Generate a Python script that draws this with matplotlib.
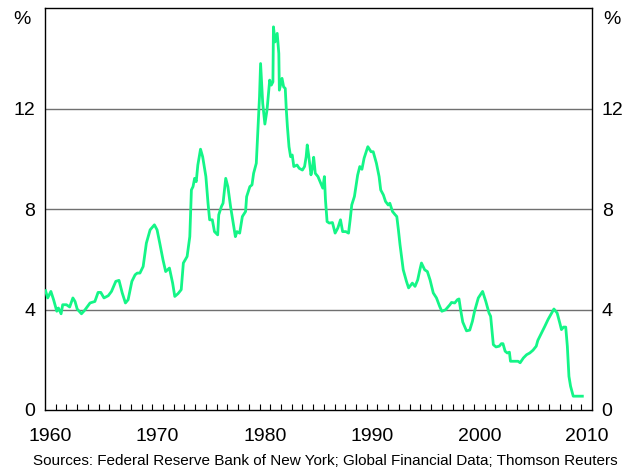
# Rendimiento de tasas de interés de EE.UU., 1960-2010

import numpy as np
import matplotlib
matplotlib.use("Agg")
import matplotlib.pyplot as plt

# Datos (año decimal, %)
anios = [
    1960.05, 1960.25, 1960.55, 1960.8, 1961.1, 1961.25, 1961.5, 1961.65, 1962.0, 1962.3,
    1962.6, 1962.8, 1963.0, 1963.4, 1963.7, 1964.2, 1964.65, 1964.95, 1965.2, 1965.5,
    1965.9, 1966.2, 1966.6, 1966.9, 1967.2, 1967.5, 1967.75, 1968.1, 1968.4, 1968.6,
    1968.85, 1969.15, 1969.45, 1969.8, 1970.2, 1970.45, 1970.7, 1971.0, 1971.25, 1971.6,
    1971.9, 1972.1, 1972.4, 1972.7, 1972.9, 1973.25, 1973.5, 1973.65, 1973.8, 1973.95,
    1974.1, 1974.25, 1974.5, 1974.7, 1975.0, 1975.2, 1975.35, 1975.6, 1975.8, 1976.1,
    1976.2, 1976.45, 1976.6, 1976.85, 1977.05, 1977.3, 1977.5, 1977.75, 1977.9, 1978.15,
    1978.4, 1978.7, 1978.8, 1979.1, 1979.3, 1979.45, 1979.7, 1979.85, 1980.0, 1980.1,
    1980.3, 1980.5, 1980.7, 1980.95, 1981.1, 1981.25, 1981.3, 1981.45, 1981.65, 1981.8,
    1981.85, 1982.1, 1982.25, 1982.4, 1982.5, 1982.6, 1982.75, 1982.9, 1983.05, 1983.2,
    1983.5, 1983.7, 1984.0, 1984.2, 1984.35, 1984.45, 1984.6, 1984.8, 1984.95, 1985.05,
    1985.2, 1985.45, 1985.7, 1985.9, 1986.05, 1986.15, 1986.3, 1986.5, 1986.8, 1987.05,
    1987.3, 1987.55, 1987.75, 1988.05, 1988.3, 1988.45, 1988.6, 1988.85, 1989.15, 1989.35,
    1989.55, 1989.75, 1990.1, 1990.4, 1990.6, 1990.9, 1991.15, 1991.3, 1991.55, 1991.75,
    1992.0, 1992.15, 1992.4, 1992.65, 1992.8, 1992.95, 1993.1, 1993.4, 1993.7, 1993.9,
    1994.25, 1994.5, 1994.75, 1994.95, 1995.1, 1995.4, 1995.65, 1995.9, 1996.2, 1996.5,
    1996.8, 1997.0, 1997.35, 1997.75, 1997.9, 1998.2, 1998.45, 1998.6, 1998.75, 1998.95,
    1999.3, 1999.6, 1999.85, 2000.05, 2000.4, 2000.8, 2001.1, 2001.4, 2001.55, 2001.8,
    2002.05, 2002.35, 2002.55, 2002.7, 2002.9, 2003.1, 2003.3, 2003.4, 2003.65, 2004.1,
    2004.3, 2004.6, 2004.9, 2005.2, 2005.5, 2005.8, 2005.95, 2006.3, 2006.6, 2006.9,
    2007.2, 2007.45, 2007.75, 2008.0, 2008.15, 2008.35, 2008.55, 2008.7, 2008.85, 2009.0,
    2009.25, 2010.1,
]
tasas = [
    4.75, 4.46, 4.72, 4.39, 3.93, 4.06, 3.83, 4.19, 4.19, 4.10,
    4.46, 4.32, 4.02, 3.83, 3.97, 4.26, 4.32, 4.68, 4.68, 4.46,
    4.55, 4.72, 5.12, 5.16, 4.66, 4.26, 4.39, 5.12, 5.38, 5.45,
    5.45, 5.71, 6.64, 7.17, 7.37, 7.17, 6.64, 5.98, 5.51, 5.65,
    5.05, 4.52, 4.63, 4.79, 5.85, 6.11, 6.90, 8.76, 8.89, 9.22,
    9.09, 9.75, 10.38, 10.08, 9.29, 8.23, 7.57, 7.57, 7.10, 6.97,
    7.77, 8.10, 8.23, 9.22, 8.89, 8.10, 7.57, 6.90, 7.10, 7.04,
    7.70, 7.90, 8.49, 8.89, 8.96, 9.42, 9.82, 11.14, 12.47, 13.79,
    12.20, 11.38, 11.94, 13.13, 12.93, 13.06, 15.25, 14.65, 14.99, 14.19,
    12.73, 13.20, 12.86, 12.80, 11.94, 11.28, 10.48, 10.08, 10.15, 9.69,
    9.75, 9.62, 9.55, 9.69, 10.08, 10.55, 10.08, 9.36, 9.69, 10.06,
    9.42, 9.29, 9.03, 8.83, 9.29, 8.36, 7.50, 7.44, 7.46, 7.04,
    7.24, 7.57, 7.10, 7.10, 7.04, 7.57, 8.16, 8.50, 9.35, 9.69,
    9.58, 10.02, 10.48, 10.28, 10.28, 9.82, 9.29, 8.76, 8.56, 8.30,
    8.16, 8.23, 7.90, 7.77, 7.70, 7.17, 6.58, 5.58, 5.12, 4.86,
    5.05, 4.92, 5.18, 5.58, 5.85, 5.58, 5.51, 5.18, 4.66, 4.46,
    4.12, 3.93, 3.99, 4.19, 4.28, 4.26, 4.39, 4.42, 3.99, 3.50,
    3.15, 3.18, 3.53, 3.93, 4.46, 4.72, 4.32, 3.86, 3.73, 2.60,
    2.51, 2.54, 2.64, 2.64, 2.34, 2.27, 2.30, 1.94, 1.94, 1.94,
    1.88, 2.07, 2.20, 2.27, 2.38, 2.54, 2.77, 3.07, 3.33, 3.60,
    3.83, 4.02, 3.86, 3.46, 3.20, 3.30, 3.30, 2.54, 1.34, 0.95,
    0.55, 0.55,
]
etiquetasX = ["1960", "1970", "1980", "1990", "2000", "2010"]
marcasY = [0, 4, 8, 12]
fuente = "Sources: Federal Reserve Bank of New York; Global Financial Data; Thomson Reuters"

plt.rcParams["font.family"] = ["Liberation Sans", "DejaVu Sans"]


def main():
    fig = plt.figure(figsize=(6.37, 4.70), dpi=100)
    ax = fig.add_axes([45 / 637, 60 / 470, 547 / 637, 402 / 470])

    # Líneas horizontales de referencia
    for y in marcasY[1:]:
        ax.axhline(y, color="#707070", lw=1.0, zorder=1)

    ax.plot(anios, tasas, color="#14F587", lw=2.0, zorder=3)

    ax.set_xlim(1960, 2011)
    ax.set_ylim(0, 16)

    # Etiquetas centradas en cada año, marcas menores en cada año
    ax.set_xticks([int(e) + 0.5 for e in etiquetasX])
    ax.set_xticklabels(etiquetasX)
    ax.set_xticks(np.arange(1961, 2011), minor=True)
    ax.tick_params(axis="x", which="major", length=0, pad=13, labelsize=14)
    ax.tick_params(axis="x", which="minor", direction="in", length=4, width=0.8,
                   top=False)

    ax.set_yticks(marcasY)
    ax.set_yticklabels([str(v) for v in marcasY])
    ax.tick_params(axis="y", length=0, labelsize=14, pad=7,
                   labelleft=True, labelright=True)

    for s in ax.spines.values():
        s.set_linewidth(1.0)
        s.set_color("black")

    fig.text(22 / 637, 1 - 19 / 470, "%", ha="center", va="center", fontsize=14)
    fig.text(611.5 / 637, 1 - 19 / 470, "%", ha="center", va="center", fontsize=14)
    fig.text(33 / 637, 1 - 461 / 470, fuente, ha="left", va="center", fontsize=11)

    fig.savefig("out.png", dpi=100)


if __name__ == "__main__":
    main()
